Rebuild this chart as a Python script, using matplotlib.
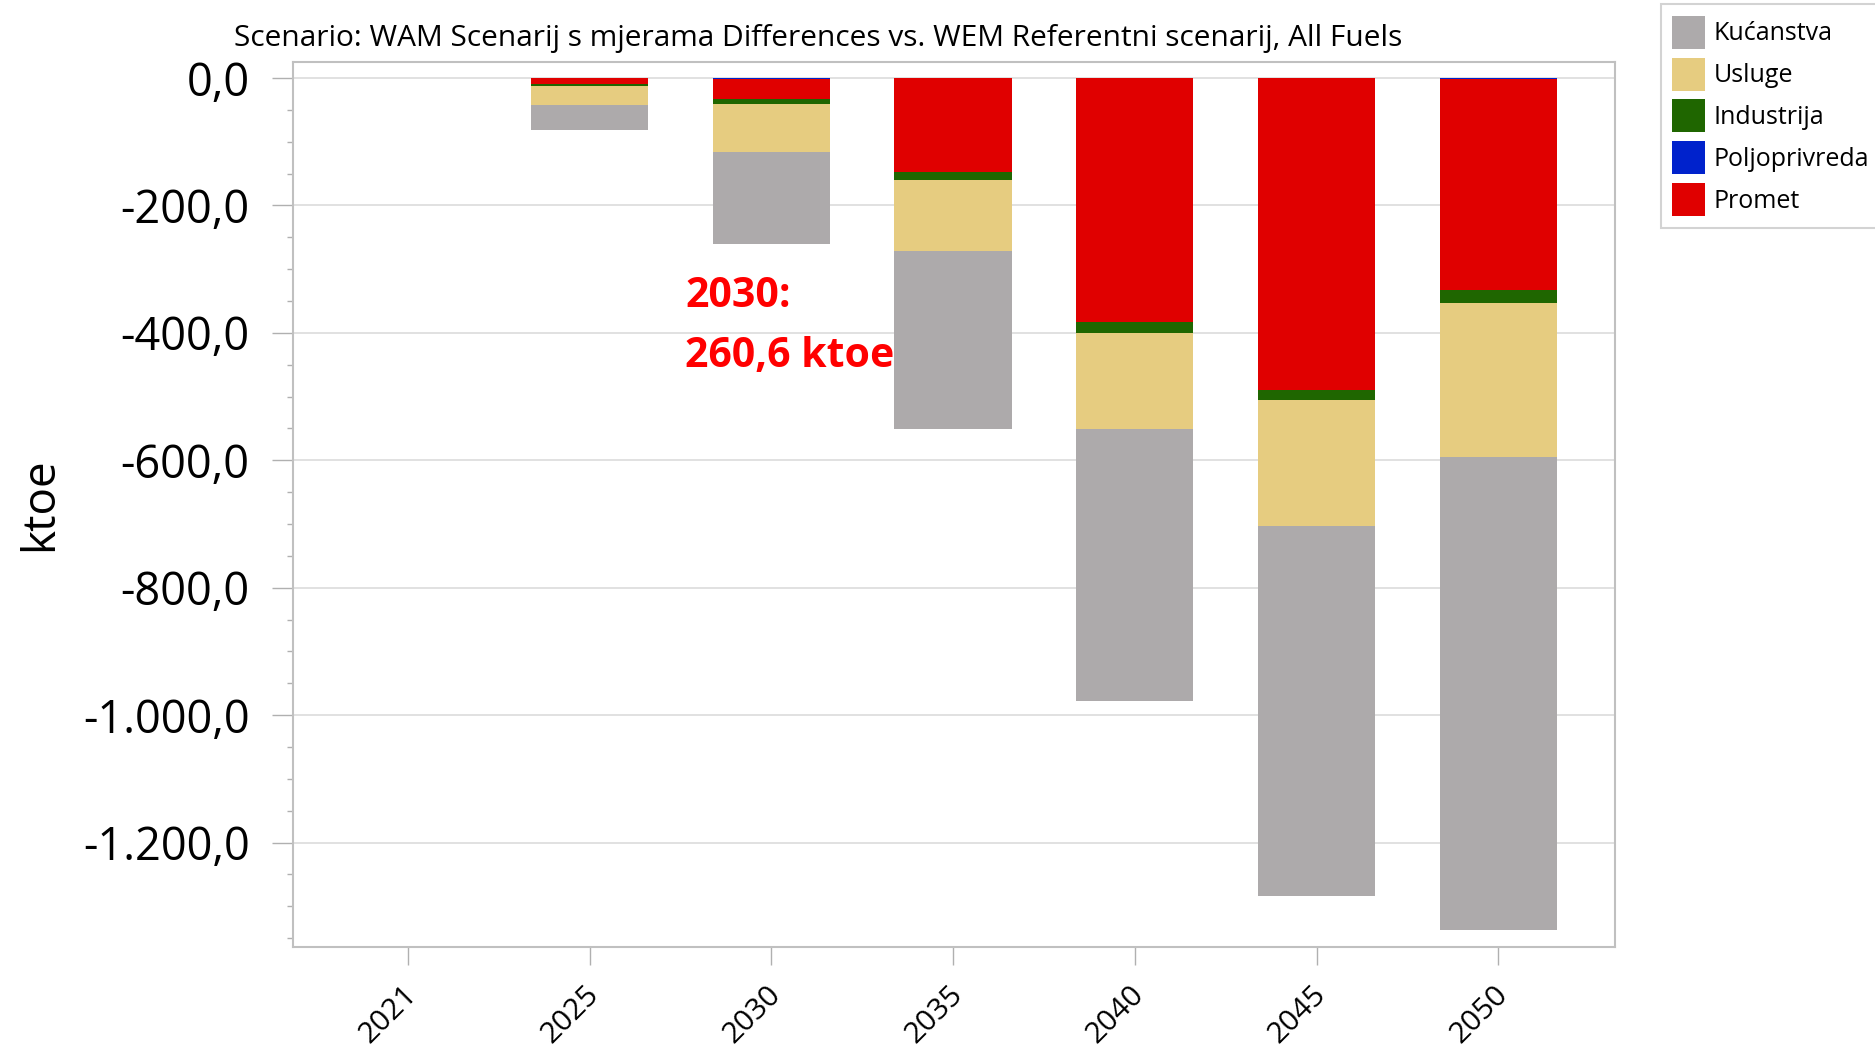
import numpy as np
import matplotlib.pyplot as plt
from matplotlib.ticker import FuncFormatter, MultipleLocator
from matplotlib.transforms import ScaledTranslation

plt.rcParams['font.family'] = ['Open Sans', 'DejaVu Sans']

# Podaci (ktoe, razlika WAM - WEM)
godine = ["2021", "2025", "2030", "2035", "2040", "2045", "2050"]
kucanstva = [0, -39.3, -145.0, -278.4, -426.4, -580.3, -742.7]
usluge = [0, -29.9, -75.4, -112.4, -150.5, -197.3, -241.8]
industrija = [0, -3.1, -7.3, -12.1, -16.8, -16.0, -20.2]
poljoprivreda = [0, 0, -1.5, 0, 0, 0, -1.5]
promet = [0, -8.9, -31.5, -147.6, -383.7, -489.6, -331.8]

naslov = "Scenario: WAM Scenarij s mjerama Differences vs. WEM Referentni scenarij, All Fuels"
napomena = "2030:\n260,6 ktoe"

boje = {
    "Kućanstva": "#adaaab",
    "Usluge": "#e6cc80",
    "Industrija": "#1f6600",
    "Poljoprivreda": "#0022cc",
    "Promet": "#e00000",
}

fig = plt.figure(figsize=(18.75, 10.47), dpi=100)
ax = fig.add_axes([0.1561, 0.0958, 0.7052, 0.8453])

# slaganje od nule prema dolje
x = np.arange(len(godine))
dno = np.zeros(len(godine))
stupci = {}
for ime, vrijednosti in [("Poljoprivreda", poljoprivreda), ("Promet", promet),
                         ("Industrija", industrija), ("Usluge", usluge),
                         ("Kućanstva", kucanstva)]:
    v = np.array(vrijednosti)
    stupci[ime] = ax.bar(x, v, 0.645, bottom=dno, color=boje[ime], label=ime, zorder=3)
    dno += v

ax.set_xlim(-0.633, 6.641)
ax.set_ylim(-1363.5, 25.7)

# osi
ax.yaxis.set_major_locator(MultipleLocator(200))
ax.yaxis.set_minor_locator(MultipleLocator(50))
ax.yaxis.set_major_formatter(FuncFormatter(
    lambda v, p: f"{v:,.1f}".replace(",", " ").replace(".", ",").replace(" ", ".")))
ax.tick_params(axis="y", which="major", length=15, width=1, color="#b0b0b0",
               labelsize=32.5, pad=16)
ax.tick_params(axis="y", which="minor", length=4.5, width=1, color="#b0b0b0")
ax.set_xticks(x)
ax.set_xticklabels(godine, rotation=45, ha="right", rotation_mode="anchor")
ax.tick_params(axis="x", length=13, width=1, color="#b0b0b0", labelsize=21.5, pad=11)
pomak = ScaledTranslation(-0.05, 0, fig.dpi_scale_trans)
for lbl in ax.get_xticklabels():
    lbl.set_transform(lbl.get_transform() + pomak)
ax.grid(axis="y", color="#dcdcdc", linewidth=1.2, zorder=0)
for s in ax.spines.values():
    s.set_color("#c0c0c0")
    s.set_linewidth(1.5)

ax.set_ylabel("ktoe", fontsize=33, labelpad=14)

fig.text(0.4365, 0.963, naslov, fontsize=21.5, ha="center", va="center")

ax.text(1.525, -310, napomena, color="#ff0000", fontsize=29.5, fontweight="bold",
        ha="left", va="top", linespacing=1.62, zorder=4)

# legenda
redoslijed = ["Kućanstva", "Usluge", "Industrija", "Poljoprivreda", "Promet"]
leg = fig.legend([stupci[i] for i in redoslijed], redoslijed, loc="upper left",
                 bbox_to_anchor=(0.8858, 0.996), borderaxespad=0, fontsize=18,
                 handlelength=1.32, handleheight=1.66, labelspacing=0.35,
                 handletextpad=0.33, borderpad=0.46, fancybox=False)
leg.get_frame().set_edgecolor("#c8c8c8")
leg.get_frame().set_linewidth(1.5)

fig.savefig("out.png", dpi=100)
